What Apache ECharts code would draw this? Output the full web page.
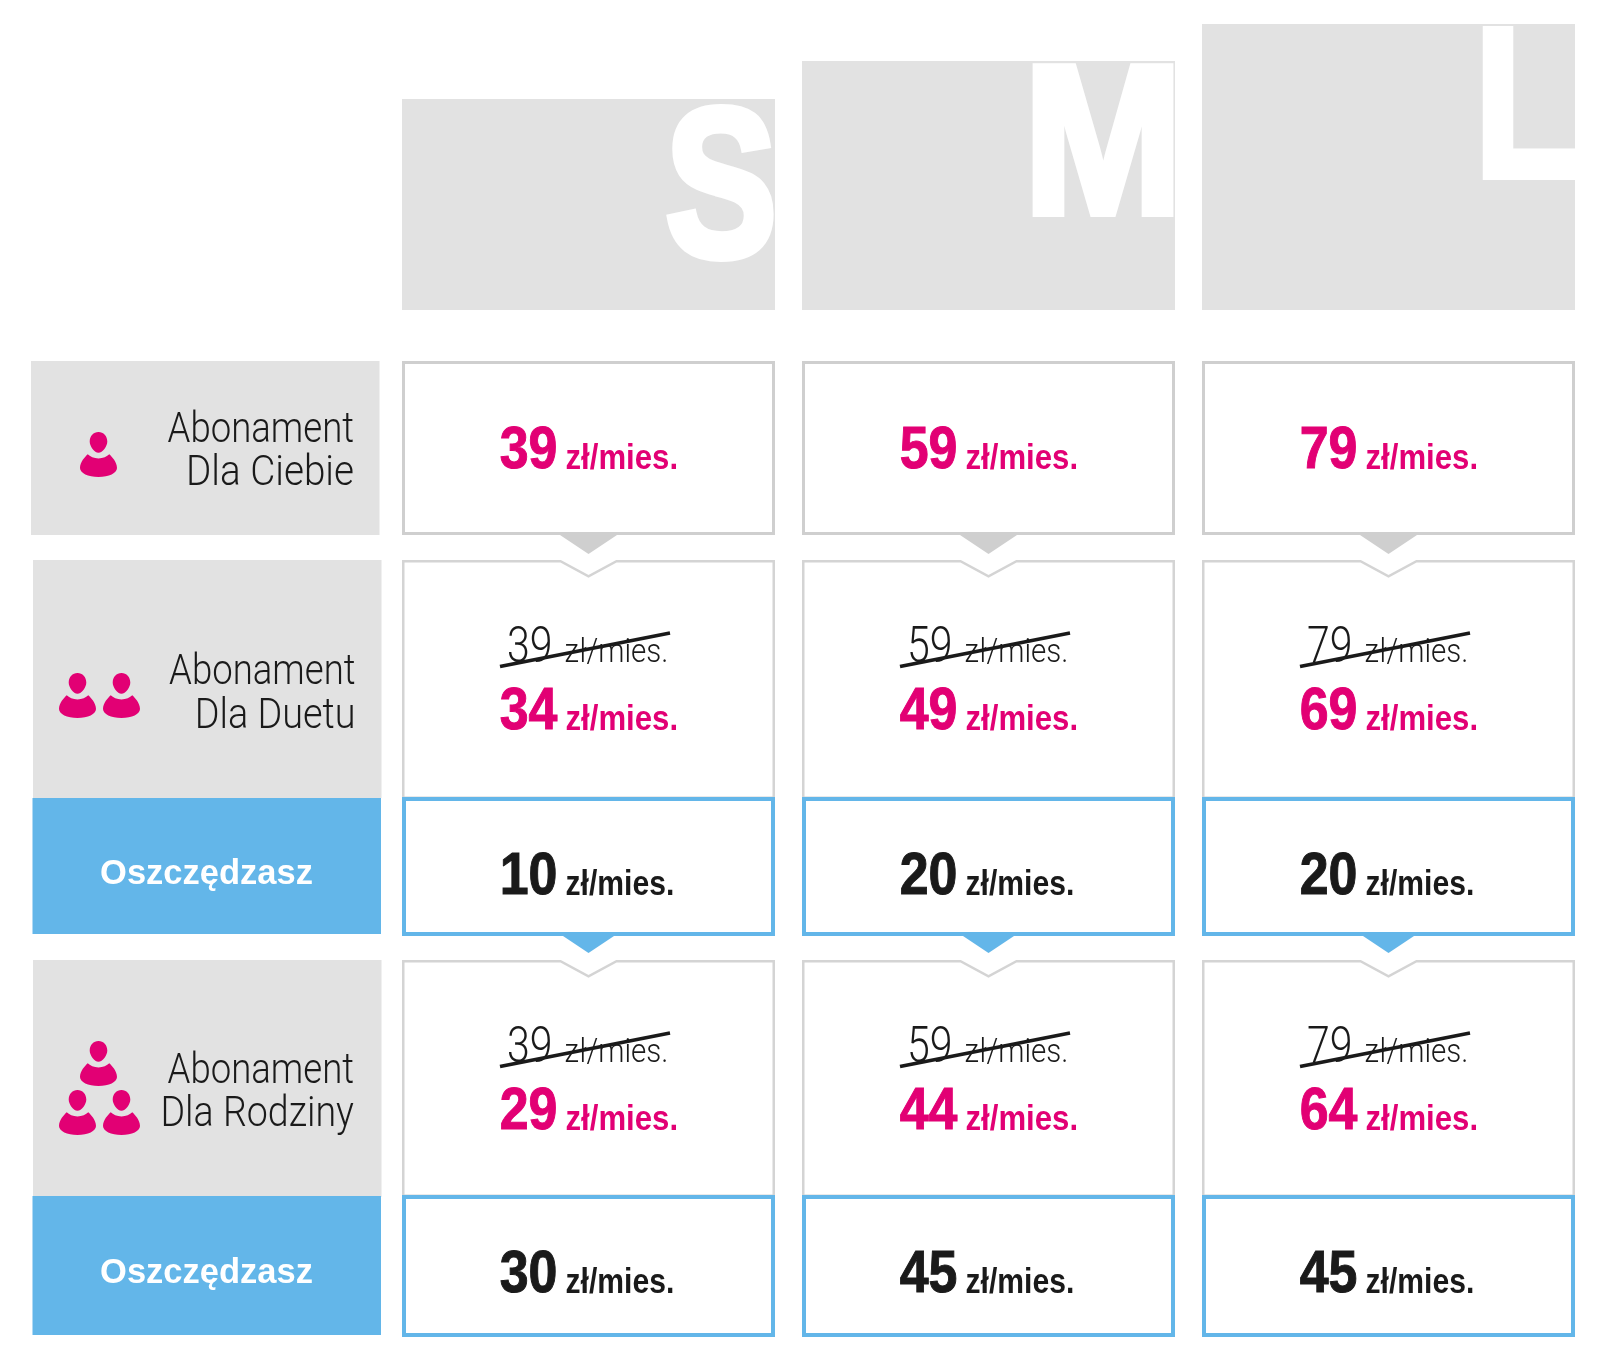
<!DOCTYPE html>
<html>
<head>
<meta charset="utf-8">
<style>
  html, body { margin: 0; background: #fff; }
  #chart { width: 1600px; height: 1359px; }
</style>
<script src="https://cdn.jsdelivr.net/npm/echarts@6/dist/echarts.min.js"></script>
</head>
<body>
<div id="chart"></div>
<script>
// data
const plans = ['S', 'M', 'L']
const planSizes = [211, 249, 286]
const columns = ['opis', 'S', 'M', 'L']
const basePrice = [39, 59, 79]
const duoPrice = [34, 49, 69]
const duoSaving = [10, 20, 20]
const familyPrice = [29, 44, 64]
const familySaving = [30, 45, 45]
const unit = 'zł/mies.'
const savingLabel = 'Oszczędzasz'
const soloLabel = ['Abonament', 'Dla Ciebie']
const duoLabel = ['Abonament', 'Dla Duetu']
const familyLabel = ['Abonament', 'Dla Rodziny']

// layout
const bandW = 400
const rowTops = [24, 361, 560, 797, 960, 1195]
const rowHeights = [286, 174, 237, 139, 235, 142]
const letterScale = [0.79, 0.9, 0.79]
const letterRight = [188.5, 194, 188.5]
const letterDrop = [160, 155, 155]
const PINK = '#e20074'
const BLUE = '#63b6e9'
const GREY = '#e2e2e2'
const DARK = '#1a1a1a'
const SANS = '"Liberation Sans", Arial, sans-serif'
const THIN = 'Roboto, "Liberation Sans", sans-serif'
const PERSON = 'M18.5 0C23.5 0 27.3 4 27.3 9.5C27.3 14.5 22.5 20.7 18.5 20.7C14.5 20.7 9.7 14.5 9.7 9.5C9.7 4 13.5 0 18.5 0Z' +
  'M7.7 22.3C10 24.5 14 26.5 18.5 26.5C23 26.5 27 24.5 29.3 22.3C32 25 37 30 37 36C37 41 29 45 18.5 45C8 45 0 41 0 36C0 30 5 25 7.7 22.3Z'

function txt(x, base, text, size, weight, family, fill, align, sx, border) {
  const style = {
    text: text,
    x: 0,
    y: -0.29 * size,
    fill: fill,
    font: weight + ' ' + size + 'px ' + family,
    align: align,
    verticalAlign: 'middle'
  }
  if (border) {
    style.stroke = fill
    style.lineWidth = border
  }
  return { type: 'text', x: x, y: base, scaleX: sx || 1, style: style }
}

function price(cx, base, value, color, unitScale) {
  return [
    txt(cx - 31, base, String(value), 59, 'bold', SANS, color, 'right', 0.88, 1),
    txt(cx - 23, base, unit, 35, 'bold', SANS, color, 'left', unitScale)
  ]
}

function person(x, y) {
  return {
    type: 'path',
    shape: { pathData: PERSON, x: x, y: y, width: 37, height: 45 },
    style: { fill: PINK }
  }
}

function box(cx, top, bottom, color, width, notch) {
  const l = cx - 186.5 + width / 2
  const r = cx + 186.5 - width / 2
  const t = top + width / 2
  const b = bottom - width / 2
  const pts = notch
    ? [[l, t], [cx - 28, t], [cx, t + 15], [cx + 28, t], [r, t], [r, b], [l, b]]
    : [[l, t], [r, t], [r, b], [l, b]]
  return { type: 'polygon', shape: { points: pts }, style: { fill: '#fff', stroke: color, lineWidth: width } }
}

function arrow(cx, y, half, h, color) {
  return { type: 'polygon', shape: { points: [[cx - half, y], [cx + half, y], [cx, y + h]] }, style: { fill: color } }
}

// one renderer per kind of row; opis column comes first, then the plan cells
function renderRow(row) {
  return function (params, api) {
    const col = api.value(0)
    const c = api.coord([col, 0])
    const h = api.size([1, 1])[1]
    const top = c[1] - h / 2
    const bottom = c[1] + h / 2
    const kids = []
    if (col === 0) {
      const right = row.labelRight
      if (row.kind === 'saving') {
        kids.push({ type: 'rect', shape: { x: 32.5, y: top + 1, width: 348.5, height: h - 3 }, style: { fill: BLUE } })
        kids.push(txt(206.5, top + row.labelBase[0], savingLabel, 34.5, 'bold', SANS, '#fff', 'center', 1))
      } else {
        kids.push({ type: 'rect', shape: { x: row.kind === 'base' ? 31 : 33, y: top, width: 348.5, height: h + row.panelExtra }, style: { fill: GREY } })
        row.label.forEach(function (line, i) {
          kids.push(txt(right, top + row.labelBase[i], line, 42, 300, THIN, DARK, 'right', row.labelScale[i]))
        })
        row.icons.forEach(function (p) {
          kids.push(person(p[0], top + p[1]))
        })
      }
    } else {
      const cx = c[0]
      const v = api.value(2)
      if (row.kind === 'base') {
        kids.push(box(cx, top, bottom, '#cfcfcf', 3, false))
        kids.push(arrow(cx, bottom - 1, 30, 20, '#cfcfcf'))
        kids.push.apply(kids, price(cx, top + 108, v, PINK, 0.89))
      } else if (row.kind === 'discount') {
        kids.push(box(cx, top, bottom + 2, '#d4d4d4', 2.5, true))
        kids.push(txt(cx - 36, top + 104, String(api.value(3)), 50, 300, THIN, DARK, 'right', 0.82))
        kids.push(txt(cx - 24, top + 103, unit, 33, 300, THIN, DARK, 'left', 0.895))
        kids.push({
          type: 'line',
          shape: { x1: cx - 88.5, y1: top + 106.5, x2: cx + 81.5, y2: top + 73 },
          style: { stroke: DARK, lineWidth: 3.8 }
        })
        kids.push.apply(kids, price(cx, top + 170, v, PINK, 0.89))
      } else {
        kids.push(box(cx, top, bottom, BLUE, 4, false))
        if (row.tail) kids.push(arrow(cx, bottom - 1, 27, 18, BLUE))
        kids.push.apply(kids, price(cx, top + 98, v, DARK, 0.86))
      }
    }
    return { type: 'group', children: kids }
  }
}

const rows = [
  { kind: 'base', name: 'ciebie', values: basePrice, label: soloLabel, labelScale: [0.87, 0.92], panelExtra: 0, labelRight: 354, labelBase: [82.5, 126], icons: [[80, 71]] },
  { kind: 'discount', name: 'duet', values: duoPrice, old: basePrice, label: duoLabel, labelScale: [0.87, 0.9], panelExtra: 1, labelRight: 355.5, labelBase: [125.5, 170], icons: [[59, 113], [103, 113]] },
  { kind: 'saving', name: 'oszczednosc1', values: duoSaving, labelBase: [87], tail: true },
  { kind: 'discount', name: 'rodzina', values: familyPrice, old: basePrice, label: familyLabel, labelScale: [0.87, 0.895], panelExtra: 2, labelRight: 354, labelBase: [124.5, 168], icons: [[80, 81], [59, 130], [103, 130]] },
  { kind: 'saving', name: 'oszczednosc2', values: familySaving, labelBase: [88], tail: false }
]

const grids = rowTops.map(function (t, i) {
  return { left: -11.5, top: t, width: bandW * 4, height: rowHeights[i], outerBoundsMode: 'none' }
})
const xAxes = grids.map(function (g, i) {
  return { type: 'category', gridIndex: i, data: columns, show: false }
})
const yAxes = [{ type: 'value', gridIndex: 0, min: 0, max: 286, show: false }].concat(rows.map(function (r, i) {
  return { type: 'category', gridIndex: i + 1, data: [r.name], show: false }
}))

const series = [
  {
    type: 'bar',
    xAxisIndex: 0,
    yAxisIndex: 0,
    barWidth: 373,
    itemStyle: { color: GREY },
    data: [null].concat(planSizes)
  },
  {
    type: 'custom',
    xAxisIndex: 0,
    yAxisIndex: 0,
    clip: false,
    z: 5,
    encode: { x: 0, y: 1 },
    data: plans.map(function (p, i) { return [i + 1, planSizes[i]] }),
    renderItem: function (params, api) {
      const c = api.coord([api.value(0), api.value(1)])
      const i = params.dataIndex
      return {
        type: 'group',
        children: [txt(c[0] + letterRight[i], c[1] + letterDrop[i], plans[i], 212, 'bold', SANS, '#fff', 'right', letterScale[i], 8)]
      }
    }
  }
].concat(rows.map(function (r, i) {
  return {
    type: 'custom',
    xAxisIndex: i + 1,
    yAxisIndex: i + 1,
    clip: false,
    encode: { x: 0, y: 1 },
    data: [[0, 0, 0, 0]].concat(r.values.map(function (v, k) {
      return [k + 1, 0, v, r.old ? r.old[k] : 0]
    })),
    renderItem: renderRow(r)
  }
}))

const chart = echarts.init(document.getElementById('chart'))
chart.setOption({
  animation: false,
  backgroundColor: '#fff',
  tooltip: { show: false },
  grid: grids,
  xAxis: xAxes,
  yAxis: yAxes,
  series: series
})
</script>
</body>
</html>
